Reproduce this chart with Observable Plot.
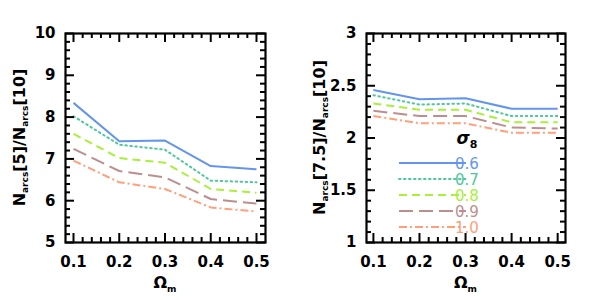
<!DOCTYPE html>
<html><head><meta charset="utf-8">
<script src="https://cdn.jsdelivr.net/npm/d3@7"></script>
<script src="https://cdn.jsdelivr.net/npm/@observablehq/plot@0.6"></script>
<style>
body{margin:0;background:#fff;}
#wrap{display:flex;width:598px;height:300px;}
svg{font-family:"DejaVu Sans",sans-serif;}
</style></head><body><div id="wrap"></div>
<script>
const omegaM = [0.1, 0.2, 0.3, 0.4, 0.5];
const sigma8 = ["0.6", "0.7", "0.8", "0.9", "1.0"];
const ratio5 = {
  "0.6": [8.34, 7.42, 7.44, 6.83, 6.75],
  "0.7": [8.02, 7.34, 7.22, 6.48, 6.44],
  "0.8": [7.60, 7.02, 6.91, 6.28, 6.19],
  "0.9": [7.24, 6.71, 6.56, 6.04, 5.93],
  "1.0": [6.96, 6.44, 6.28, 5.84, 5.74]
};
const ratio75 = {
  "0.6": [2.46, 2.37, 2.38, 2.28, 2.28],
  "0.7": [2.41, 2.32, 2.33, 2.21, 2.21],
  "0.8": [2.33, 2.27, 2.27, 2.15, 2.15],
  "0.9": [2.26, 2.21, 2.21, 2.10, 2.09],
  "1.0": [2.21, 2.14, 2.14, 2.05, 2.05]
};
const xMajor = [0.1, 0.2, 0.3, 0.4, 0.5];
const xMinor = [0.12,0.14,0.16,0.18,0.22,0.24,0.26,0.28,0.32,0.34,0.36,0.38,0.42,0.44,0.46,0.48];
const yMajorL = [5, 6, 7, 8, 9, 10];
const yMinorL = d3.range(5, 10.001, 0.2).map(v => +v.toFixed(1)).filter(v => !Number.isInteger(v));
const yMajorR = [1, 1.5, 2, 2.5, 3];
const yMinorR = d3.range(1, 3.001, 0.1).map(v => +v.toFixed(1)).filter(v => !yMajorR.includes(v));

const colors = {"0.6":"#6495ED","0.7":"#4FC89B","0.8":"#A8F03A","0.9":"#BC8F8F","1.0":"#FFA07A"};
const dashes = {"0.6":null,"0.7":"1.5 3.5","0.8":"8 5","0.9":"14 6","1.0":"8 3 2 3"};

function rows(obj){
  const out=[];
  for(const s of sigma8) obj[s].forEach((v,i)=>out.push({s, x: omegaM[i], y: v}));
  return out;
}

function panel({data, yDomain, xDomain, yMajor, yMinor, width, ml, mr, ylabelMain}){
  const mt=33, mb=58, H=300;
  const innerH = H-mt-mb, innerW = width-ml-mr;
  // tick lengths expressed in data units of each scale
  const ky = (yDomain[1]-yDomain[0])/innerH, kx = (xDomain[1]-xDomain[0])/innerW;
  const [y0,y1] = yDomain, [x0,x1] = xDomain;
  const marks = [];
  for(const s of sigma8){
    marks.push(Plot.line(data.filter(d=>d.s===s), {x:"x", y:"y", stroke: colors[s], strokeWidth: 2,
      strokeDasharray: dashes[s], strokeLinecap: s==="0.7"?"round":"butt"}));
  }
  const tk = {stroke:"black", strokeWidth:2};
  const maj = 9, min = 5;
  marks.push(
    Plot.ruleX(xMajor, {x:d=>d, y1:y0, y2:y0+maj*ky, ...tk}),
    Plot.ruleX(xMajor, {x:d=>d, y1:y1, y2:y1-maj*ky, ...tk}),
    Plot.ruleX(xMinor, {x:d=>d, y1:y0, y2:y0+min*ky, ...tk}),
    Plot.ruleX(xMinor, {x:d=>d, y1:y1, y2:y1-min*ky, ...tk}),
    Plot.ruleY(yMajor, {y:d=>d, x1:x0, x2:x0+maj*kx, ...tk}),
    Plot.ruleY(yMajor, {y:d=>d, x1:x1, x2:x1-maj*kx, ...tk}),
    Plot.ruleY(yMinor, {y:d=>d, x1:x0, x2:x0+min*kx, ...tk}),
    Plot.ruleY(yMinor, {y:d=>d, x1:x1, x2:x1-min*kx, ...tk}),
    Plot.frame({stroke:"black", strokeWidth:2.2}),
    Plot.axisX(xMajor, {tickSize:0, tickPadding:14, fontSize:15, fontWeight:"bold", tickFormat:d=>d.toFixed(1), fill:"black", label:null}),
    Plot.axisY(yMajor, {tickSize:0, tickPadding:10, fontSize:15, fontWeight:"bold", tickFormat:d=>String(d), fill:"black", label:null})
  );
  const svg = Plot.plot({
    width, height:H, marginTop:mt, marginBottom:mb, marginLeft:ml, marginRight:mr,
    x:{domain:xDomain}, y:{domain:yDomain},
    style:{fontFamily:'"DejaVu Sans",sans-serif', color:"black", background:"white"},
    marks
  });
  const g = d3.select(svg);
  const cx = ml + innerW/2;
  const xt = g.append("text").attr("x", cx).attr("y", 288).attr("text-anchor","middle")
    .attr("font-size",16).attr("font-weight","bold").attr("fill","black");
  xt.append("tspan").text("Ω");
  xt.append("tspan").attr("font-size",9).attr("dy",4).text("m");
  const yt = g.append("text").attr("transform",`translate(25,${mt+innerH/2}) rotate(-90)`)
    .attr("text-anchor","middle").attr("font-size",16).attr("font-weight","bold").attr("fill","black");
  yt.append("tspan").text("N");
  yt.append("tspan").attr("font-size",9).attr("dy",3).text("arcs");
  yt.append("tspan").attr("dy",-3).text(`[${ylabelMain}]/N`);
  yt.append("tspan").attr("font-size",9).attr("dy",3).text("arcs");
  yt.append("tspan").attr("dy",-3).text("[10]");
  return svg;
}

const left = panel({data: rows(ratio5), yDomain:[5,10], xDomain:[0.0825,0.5197], yMajor:yMajorL, yMinor:yMinorL,
  width:300, ml:65, mr:35, ylabelMain:"5"});
const right = panel({data: rows(ratio75), yDomain:[1,3], xDomain:[0.085,0.517], yMajor:yMajorR, yMinor:yMinorR,
  width:298, ml:66, mr:33, ylabelMain:"7.5"});

// legend in right panel
const rg = d3.select(right);
const legX1 = 99, legX2 = 166, legY0 = 163, legDY = 16;
const sg = rg.append("text").attr("x", 167).attr("y", 144).attr("font-size",17).attr("font-weight","bold")
  .attr("font-style","italic").attr("fill","black");
sg.append("tspan").text("σ");
sg.append("tspan").attr("font-size",11).attr("font-style","normal").attr("dy",4).text("8");
sigma8.forEach((s,i)=>{
  const y = legY0 + i*legDY;
  rg.append("line").attr("x1",legX1).attr("x2",legX2).attr("y1",y).attr("y2",y)
    .attr("stroke",colors[s]).attr("stroke-width",2).attr("stroke-dasharray",dashes[s])
    .attr("stroke-linecap", s==="0.7"?"round":"butt");
  rg.append("text").attr("x",legX2+1).attr("y",y+5.5).attr("font-size",15).attr("fill",colors[s]).text(s);
});

document.getElementById("wrap").append(left, right);
</script></body></html>
